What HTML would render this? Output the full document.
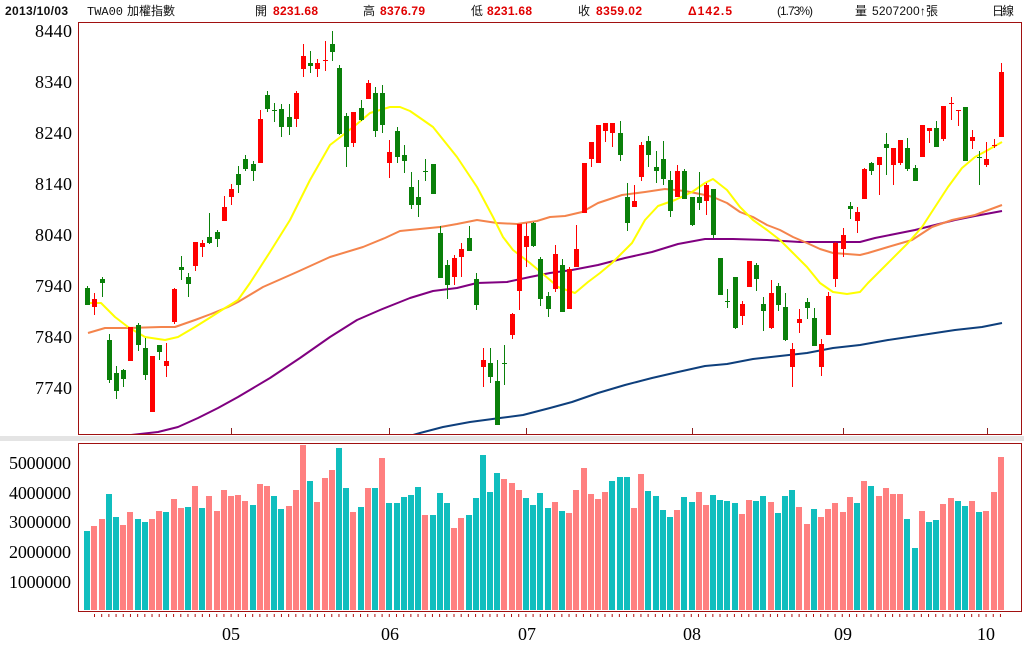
<!DOCTYPE html>
<html><head><meta charset="utf-8"><style>
html,body{margin:0;padding:0;background:#fff;}
svg{display:block;}
.hd{font-family:"Liberation Sans","Noto Sans CJK TC",sans-serif;font-size:12px;fill:#111;}
.hb{font-family:"Liberation Sans",sans-serif;font-size:12px;font-weight:bold;fill:#e00000;}
.dt{font-family:"Liberation Sans",sans-serif;font-size:12px;font-weight:bold;fill:#111;}
.mo{font-family:"Liberation Mono",monospace;font-size:12px;fill:#111;}
.ax{font-family:"Liberation Serif",serif;font-size:18px;fill:#000;}
</style></head><body>
<svg width="1024" height="662" viewBox="0 0 1024 662" xmlns="http://www.w3.org/2000/svg">
<rect width="1024" height="662" fill="#fff"/>
<text x="5" y="15" class="dt" textLength="63">2013/10/03</text>
<text x="87" y="15" class="mo">TWA00</text>
<text x="127" y="15" class="hd" textLength="48">加權指數</text>
<text x="255" y="15" class="hd">開</text><text x="273" y="15" class="hb" textLength="45">8231.68</text>
<text x="363" y="15" class="hd">高</text><text x="380" y="15" class="hb" textLength="45">8376.79</text>
<text x="471" y="15" class="hd">低</text><text x="487" y="15" class="hb" textLength="45">8231.68</text>
<text x="578" y="15" class="hd">收</text><text x="596" y="15" class="hb" textLength="46">8359.02</text>
<text x="688" y="15" class="hb" textLength="44">Δ142.5</text>
<text x="777" y="15" class="hd" textLength="36">(1.73%)</text>
<text x="855" y="15" class="hd">量</text><text x="872" y="15" class="hd" textLength="66">5207200↑張</text>
<text x="992" y="15" class="hd" textLength="22">日線</text>
<g class="ax" text-anchor="end">
<text x="72" y="37" textLength="37">8440</text>
<text x="72" y="88" textLength="37">8340</text>
<text x="72" y="139" textLength="37">8240</text>
<text x="72" y="190" textLength="37">8140</text>
<text x="72" y="241" textLength="37">8040</text>
<text x="72" y="292" textLength="37">7940</text>
<text x="72" y="343" textLength="37">7840</text>
<text x="72" y="394" textLength="37">7740</text>
<text x="71" y="469" textLength="62">5000000</text>
<text x="71" y="499" textLength="62">4000000</text>
<text x="71" y="528" textLength="62">3000000</text>
<text x="71" y="558" textLength="62">2000000</text>
<text x="71" y="588" textLength="62">1000000</text>
</g>
<g class="ax" text-anchor="middle">
<text x="231" y="640">05</text>
<text x="390" y="640">06</text>
<text x="527" y="640">07</text>
<text x="692" y="640">08</text>
<text x="843" y="640">09</text>
<text x="986" y="640">10</text>
</g>
<rect x="0" y="436" width="1024" height="5" fill="#e4e4e4"/>
<defs><clipPath id="cm"><rect x="79" y="23" width="942" height="411"/></clipPath></defs>
<g clip-path="url(#cm)" fill="none" stroke-width="2" stroke-linejoin="round">
<polyline stroke="#0e3f7c" points="413,435 420,433 443,427 470,422 500,418 523,415 550,408 572,402 598,393 625,385 652,378 678,372 705,366 727,364 753,359 780,356 807,353 833,348 860,345 888,340 922,335 955,330 982,327 1002,323"/>
<polyline stroke="#800080" points="131,435 158,432 178,427 198,418 218,408 238,397 270,378 300,358 330,337 357,320 380,310 400,302 410,298 433,291 457,288 477,283 507,282 530,277 550,273 572,270 598,265 625,258 652,252 678,244 705,239 733,239 767,240 800,242 833,242 860,242 875,238 895,234 915,230 935,225 955,220 975,216 1002,211"/>
<polyline stroke="#f4844c" points="88,333 105,328 128,328 161,327 175,327 195,320 211,314 228,307 238,302 263,287 297,272 330,257 363,247 385,238 400,231 410,230 440,227 457,224 477,220 497,223 517,224 537,221 550,217 565,216 582,212 598,203 622,195 645,192 665,189 685,191 705,195 713,197 727,203 740,212 753,217 767,225 780,230 793,237 807,243 820,249 833,253 847,254 860,255 868,253 888,247 912,240 932,227 952,220 975,215 1002,205"/>
<polyline stroke="#ffff00" points="88,303 101,303 115,317 128,327 145,337 165,340 178,337 195,327 211,317 225,308 230,305 238,300 250,283 270,252 290,220 310,180 330,145 343,135 357,124 370,113 390,107 400,107 410,111 423,120 433,127 445,142 457,157 477,187 493,217 503,237 513,250 530,263 550,280 558,287 575,293 588,282 600,273 612,263 632,243 645,220 658,206 675,200 692,192 705,183 713,179 727,190 740,207 753,220 767,230 780,240 793,253 807,267 820,283 833,292 847,294 860,292 868,283 888,263 908,243 922,227 935,207 948,187 962,168 975,157 988,150 1002,142"/>
</g>
<g fill="#ff0000">
<rect x="94" y="293" width="1" height="22"/><rect x="92" y="299" width="5" height="8"/>
<rect x="130" y="327" width="1" height="34"/><rect x="128" y="327" width="5" height="34"/>
<rect x="152" y="356" width="1" height="56"/><rect x="150" y="356" width="5" height="56"/>
<rect x="166" y="343" width="1" height="34"/><rect x="164" y="361" width="5" height="5"/>
<rect x="174" y="288" width="1" height="36"/><rect x="172" y="289" width="5" height="33"/>
<rect x="195" y="242" width="1" height="29"/><rect x="193" y="242" width="5" height="24"/>
<rect x="202" y="240" width="1" height="17"/><rect x="200" y="243" width="5" height="4"/>
<rect x="224" y="196" width="1" height="25"/><rect x="222" y="207" width="5" height="14"/>
<rect x="231" y="184" width="1" height="21"/><rect x="229" y="189" width="5" height="8"/>
<rect x="260" y="110" width="1" height="53"/><rect x="258" y="119" width="5" height="44"/>
<rect x="296" y="91" width="1" height="36"/><rect x="294" y="93" width="5" height="26"/>
<rect x="303" y="44" width="1" height="33"/><rect x="301" y="56" width="5" height="13"/>
<rect x="317" y="59" width="1" height="18"/><rect x="315" y="63" width="5" height="6"/>
<rect x="325" y="41" width="1" height="30"/><rect x="323" y="60" width="5" height="1"/>
<rect x="353" y="112" width="1" height="35"/><rect x="351" y="112" width="5" height="31"/>
<rect x="368" y="80" width="1" height="19"/><rect x="366" y="83" width="5" height="16"/>
<rect x="389" y="140" width="1" height="38"/><rect x="387" y="152" width="5" height="11"/>
<rect x="454" y="255" width="1" height="30"/><rect x="452" y="258" width="5" height="19"/>
<rect x="461" y="243" width="1" height="34"/><rect x="459" y="249" width="5" height="8"/>
<rect x="483" y="348" width="1" height="39"/><rect x="481" y="360" width="5" height="7"/>
<rect x="512" y="313" width="1" height="26"/><rect x="510" y="314" width="5" height="21"/>
<rect x="519" y="224" width="1" height="86"/><rect x="517" y="224" width="5" height="67"/>
<rect x="526" y="223" width="1" height="44"/><rect x="524" y="236" width="5" height="11"/>
<rect x="555" y="245" width="1" height="47"/><rect x="553" y="254" width="5" height="35"/>
<rect x="569" y="267" width="1" height="42"/><rect x="567" y="269" width="5" height="40"/>
<rect x="576" y="225" width="1" height="42"/><rect x="574" y="249" width="5" height="18"/>
<rect x="584" y="163" width="1" height="50"/><rect x="582" y="163" width="5" height="50"/>
<rect x="591" y="142" width="1" height="25"/><rect x="589" y="142" width="5" height="17"/>
<rect x="598" y="125" width="1" height="38"/><rect x="596" y="125" width="5" height="38"/>
<rect x="605" y="123" width="1" height="19"/><rect x="603" y="123" width="5" height="8"/>
<rect x="612" y="123" width="1" height="24"/><rect x="610" y="123" width="5" height="10"/>
<rect x="634" y="185" width="1" height="22"/><rect x="632" y="201" width="5" height="6"/>
<rect x="641" y="142" width="1" height="39"/><rect x="639" y="145" width="5" height="32"/>
<rect x="677" y="165" width="1" height="32"/><rect x="675" y="171" width="5" height="26"/>
<rect x="706" y="183" width="1" height="32"/><rect x="704" y="185" width="5" height="16"/>
<rect x="742" y="301" width="1" height="24"/><rect x="740" y="304" width="5" height="12"/>
<rect x="749" y="261" width="1" height="26"/><rect x="747" y="261" width="5" height="26"/>
<rect x="771" y="280" width="1" height="49"/><rect x="769" y="293" width="5" height="35"/>
<rect x="792" y="343" width="1" height="44"/><rect x="790" y="349" width="5" height="18"/>
<rect x="799" y="309" width="1" height="24"/><rect x="797" y="319" width="5" height="4"/>
<rect x="821" y="339" width="1" height="37"/><rect x="819" y="344" width="5" height="23"/>
<rect x="828" y="292" width="1" height="43"/><rect x="826" y="296" width="5" height="39"/>
<rect x="835" y="242" width="1" height="45"/><rect x="833" y="243" width="5" height="36"/>
<rect x="843" y="228" width="1" height="29"/><rect x="841" y="235" width="5" height="14"/>
<rect x="857" y="207" width="1" height="26"/><rect x="855" y="212" width="5" height="9"/>
<rect x="864" y="168" width="1" height="31"/><rect x="862" y="169" width="5" height="30"/>
<rect x="879" y="157" width="1" height="38"/><rect x="877" y="157" width="5" height="8"/>
<rect x="893" y="148" width="1" height="37"/><rect x="891" y="148" width="5" height="17"/>
<rect x="900" y="140" width="1" height="25"/><rect x="898" y="140" width="5" height="23"/>
<rect x="922" y="125" width="1" height="32"/><rect x="920" y="125" width="5" height="32"/>
<rect x="929" y="128" width="1" height="15"/><rect x="927" y="128" width="5" height="3"/>
<rect x="943" y="106" width="1" height="35"/><rect x="941" y="106" width="5" height="33"/>
<rect x="951" y="97" width="1" height="23"/><rect x="949" y="103" width="5" height="1"/>
<rect x="958" y="110" width="1" height="16"/><rect x="956" y="110" width="5" height="1"/>
<rect x="972" y="130" width="1" height="19"/><rect x="970" y="137" width="5" height="4"/>
<rect x="986" y="142" width="1" height="25"/><rect x="984" y="159" width="5" height="6"/>
<rect x="994" y="139" width="1" height="9"/><rect x="992" y="145" width="5" height="1"/>
<rect x="1001" y="63" width="1" height="74"/><rect x="999" y="72" width="5" height="65"/>
</g>
<g fill="#0a800a">
<rect x="87" y="286" width="1" height="19"/><rect x="85" y="288" width="5" height="17"/>
<rect x="102" y="277" width="1" height="20"/><rect x="100" y="279" width="5" height="4"/>
<rect x="109" y="334" width="1" height="49"/><rect x="107" y="340" width="5" height="40"/>
<rect x="116" y="366" width="1" height="33"/><rect x="114" y="373" width="5" height="18"/>
<rect x="123" y="369" width="1" height="18"/><rect x="121" y="370" width="5" height="9"/>
<rect x="138" y="323" width="1" height="28"/><rect x="136" y="325" width="5" height="20"/>
<rect x="145" y="338" width="1" height="42"/><rect x="143" y="348" width="5" height="27"/>
<rect x="159" y="345" width="1" height="15"/><rect x="157" y="345" width="5" height="7"/>
<rect x="181" y="256" width="1" height="24"/><rect x="179" y="267" width="5" height="3"/>
<rect x="188" y="273" width="1" height="24"/><rect x="186" y="277" width="5" height="7"/>
<rect x="209" y="213" width="1" height="31"/><rect x="207" y="237" width="5" height="6"/>
<rect x="217" y="230" width="1" height="17"/><rect x="215" y="232" width="5" height="7"/>
<rect x="238" y="166" width="1" height="27"/><rect x="236" y="174" width="5" height="11"/>
<rect x="245" y="155" width="1" height="16"/><rect x="243" y="159" width="5" height="10"/>
<rect x="253" y="161" width="1" height="20"/><rect x="251" y="164" width="5" height="7"/>
<rect x="267" y="91" width="1" height="21"/><rect x="265" y="95" width="5" height="14"/>
<rect x="274" y="103" width="1" height="19"/><rect x="272" y="110" width="5" height="1"/>
<rect x="281" y="104" width="1" height="33"/><rect x="279" y="109" width="5" height="18"/>
<rect x="289" y="104" width="1" height="31"/><rect x="287" y="117" width="5" height="10"/>
<rect x="310" y="51" width="1" height="22"/><rect x="308" y="63" width="5" height="3"/>
<rect x="332" y="31" width="1" height="30"/><rect x="330" y="44" width="5" height="8"/>
<rect x="339" y="65" width="1" height="70"/><rect x="337" y="68" width="5" height="66"/>
<rect x="346" y="113" width="1" height="54"/><rect x="344" y="116" width="5" height="31"/>
<rect x="361" y="100" width="1" height="21"/><rect x="359" y="108" width="5" height="12"/>
<rect x="375" y="87" width="1" height="50"/><rect x="373" y="93" width="5" height="38"/>
<rect x="382" y="85" width="1" height="48"/><rect x="380" y="93" width="5" height="32"/>
<rect x="397" y="127" width="1" height="36"/><rect x="395" y="131" width="5" height="26"/>
<rect x="404" y="145" width="1" height="28"/><rect x="402" y="155" width="5" height="6"/>
<rect x="411" y="172" width="1" height="37"/><rect x="409" y="187" width="5" height="18"/>
<rect x="418" y="180" width="1" height="37"/><rect x="416" y="197" width="5" height="8"/>
<rect x="425" y="159" width="1" height="22"/><rect x="423" y="171" width="5" height="1"/>
<rect x="433" y="164" width="1" height="30"/><rect x="431" y="164" width="5" height="30"/>
<rect x="440" y="226" width="1" height="52"/><rect x="438" y="233" width="5" height="45"/>
<rect x="447" y="260" width="1" height="39"/><rect x="445" y="265" width="5" height="20"/>
<rect x="469" y="226" width="1" height="25"/><rect x="467" y="238" width="5" height="13"/>
<rect x="476" y="273" width="1" height="37"/><rect x="474" y="279" width="5" height="26"/>
<rect x="490" y="348" width="1" height="35"/><rect x="488" y="363" width="5" height="14"/>
<rect x="497" y="360" width="1" height="65"/><rect x="495" y="381" width="5" height="44"/>
<rect x="504" y="345" width="1" height="40"/><rect x="502" y="363" width="5" height="1"/>
<rect x="533" y="222" width="1" height="25"/><rect x="531" y="223" width="5" height="23"/>
<rect x="540" y="257" width="1" height="49"/><rect x="538" y="259" width="5" height="40"/>
<rect x="548" y="292" width="1" height="25"/><rect x="546" y="296" width="5" height="13"/>
<rect x="562" y="259" width="1" height="53"/><rect x="560" y="265" width="5" height="47"/>
<rect x="620" y="121" width="1" height="40"/><rect x="618" y="133" width="5" height="22"/>
<rect x="627" y="183" width="1" height="48"/><rect x="625" y="197" width="5" height="26"/>
<rect x="648" y="136" width="1" height="31"/><rect x="646" y="141" width="5" height="14"/>
<rect x="656" y="151" width="1" height="32"/><rect x="654" y="167" width="5" height="4"/>
<rect x="663" y="141" width="1" height="44"/><rect x="661" y="159" width="5" height="20"/>
<rect x="670" y="171" width="1" height="46"/><rect x="668" y="180" width="5" height="31"/>
<rect x="684" y="169" width="1" height="30"/><rect x="682" y="171" width="5" height="28"/>
<rect x="692" y="197" width="1" height="29"/><rect x="690" y="197" width="5" height="28"/>
<rect x="699" y="172" width="1" height="38"/><rect x="697" y="197" width="5" height="6"/>
<rect x="713" y="189" width="1" height="49"/><rect x="711" y="189" width="5" height="46"/>
<rect x="720" y="258" width="1" height="37"/><rect x="718" y="258" width="5" height="37"/>
<rect x="727" y="289" width="1" height="19"/><rect x="725" y="301" width="5" height="1"/>
<rect x="735" y="277" width="1" height="52"/><rect x="733" y="277" width="5" height="51"/>
<rect x="756" y="263" width="1" height="28"/><rect x="754" y="265" width="5" height="14"/>
<rect x="763" y="297" width="1" height="34"/><rect x="761" y="304" width="5" height="7"/>
<rect x="778" y="283" width="1" height="28"/><rect x="776" y="286" width="5" height="19"/>
<rect x="785" y="293" width="1" height="48"/><rect x="783" y="307" width="5" height="33"/>
<rect x="807" y="298" width="1" height="21"/><rect x="805" y="302" width="5" height="6"/>
<rect x="814" y="308" width="1" height="38"/><rect x="812" y="318" width="5" height="28"/>
<rect x="850" y="202" width="1" height="17"/><rect x="848" y="206" width="5" height="3"/>
<rect x="871" y="162" width="1" height="13"/><rect x="869" y="163" width="5" height="8"/>
<rect x="886" y="133" width="1" height="42"/><rect x="884" y="144" width="5" height="4"/>
<rect x="907" y="138" width="1" height="33"/><rect x="905" y="148" width="5" height="21"/>
<rect x="915" y="165" width="1" height="16"/><rect x="913" y="168" width="5" height="13"/>
<rect x="936" y="121" width="1" height="26"/><rect x="934" y="128" width="5" height="19"/>
<rect x="965" y="107" width="1" height="54"/><rect x="963" y="107" width="5" height="54"/>
<rect x="979" y="151" width="1" height="34"/><rect x="977" y="157" width="5" height="1"/>
</g>
<g fill="#10bebe">
<rect x="84" y="531" width="6" height="79"/>
<rect x="106" y="494" width="6" height="116"/>
<rect x="113" y="517" width="6" height="93"/>
<rect x="135" y="519" width="6" height="91"/>
<rect x="142" y="522" width="6" height="88"/>
<rect x="163" y="512" width="6" height="98"/>
<rect x="185" y="507" width="6" height="103"/>
<rect x="199" y="508" width="6" height="102"/>
<rect x="250" y="505" width="6" height="105"/>
<rect x="271" y="496" width="6" height="114"/>
<rect x="278" y="509" width="6" height="101"/>
<rect x="307" y="481" width="6" height="129"/>
<rect x="336" y="448" width="6" height="162"/>
<rect x="343" y="488" width="6" height="122"/>
<rect x="358" y="507" width="6" height="103"/>
<rect x="372" y="488" width="6" height="122"/>
<rect x="386" y="503" width="6" height="107"/>
<rect x="394" y="503" width="6" height="107"/>
<rect x="401" y="497" width="6" height="113"/>
<rect x="408" y="495" width="6" height="115"/>
<rect x="415" y="487" width="6" height="123"/>
<rect x="430" y="515" width="6" height="95"/>
<rect x="437" y="493" width="6" height="117"/>
<rect x="444" y="503" width="6" height="107"/>
<rect x="466" y="515" width="6" height="95"/>
<rect x="473" y="498" width="6" height="112"/>
<rect x="480" y="455" width="6" height="155"/>
<rect x="487" y="492" width="6" height="118"/>
<rect x="494" y="473" width="6" height="137"/>
<rect x="523" y="498" width="6" height="112"/>
<rect x="530" y="505" width="6" height="105"/>
<rect x="537" y="493" width="6" height="117"/>
<rect x="545" y="508" width="6" height="102"/>
<rect x="559" y="511" width="6" height="99"/>
<rect x="609" y="481" width="6" height="129"/>
<rect x="617" y="477" width="6" height="133"/>
<rect x="624" y="477" width="6" height="133"/>
<rect x="645" y="491" width="6" height="119"/>
<rect x="653" y="496" width="6" height="114"/>
<rect x="660" y="510" width="6" height="100"/>
<rect x="667" y="517" width="6" height="93"/>
<rect x="681" y="497" width="6" height="113"/>
<rect x="689" y="502" width="6" height="108"/>
<rect x="710" y="495" width="6" height="115"/>
<rect x="717" y="500" width="6" height="110"/>
<rect x="724" y="501" width="6" height="109"/>
<rect x="732" y="503" width="6" height="107"/>
<rect x="753" y="501" width="6" height="109"/>
<rect x="760" y="496" width="6" height="114"/>
<rect x="775" y="513" width="6" height="97"/>
<rect x="782" y="496" width="6" height="114"/>
<rect x="789" y="490" width="6" height="120"/>
<rect x="811" y="509" width="6" height="101"/>
<rect x="854" y="503" width="6" height="107"/>
<rect x="868" y="486" width="6" height="124"/>
<rect x="904" y="519" width="6" height="91"/>
<rect x="912" y="548" width="6" height="62"/>
<rect x="926" y="522" width="6" height="88"/>
<rect x="933" y="520" width="6" height="90"/>
<rect x="955" y="501" width="6" height="109"/>
<rect x="962" y="506" width="6" height="104"/>
<rect x="976" y="512" width="6" height="98"/>
</g>
<g fill="#ff8080">
<rect x="91" y="526" width="6" height="84"/>
<rect x="99" y="519" width="6" height="91"/>
<rect x="120" y="525" width="6" height="85"/>
<rect x="127" y="512" width="6" height="98"/>
<rect x="149" y="519" width="6" height="91"/>
<rect x="156" y="511" width="6" height="99"/>
<rect x="171" y="499" width="6" height="111"/>
<rect x="178" y="508" width="6" height="102"/>
<rect x="192" y="486" width="6" height="124"/>
<rect x="206" y="496" width="6" height="114"/>
<rect x="214" y="511" width="6" height="99"/>
<rect x="221" y="490" width="6" height="120"/>
<rect x="228" y="496" width="6" height="114"/>
<rect x="235" y="495" width="6" height="115"/>
<rect x="242" y="501" width="6" height="109"/>
<rect x="257" y="484" width="6" height="126"/>
<rect x="264" y="486" width="6" height="124"/>
<rect x="286" y="506" width="6" height="104"/>
<rect x="293" y="490" width="6" height="120"/>
<rect x="300" y="445" width="6" height="165"/>
<rect x="314" y="502" width="6" height="108"/>
<rect x="322" y="478" width="6" height="132"/>
<rect x="329" y="470" width="6" height="140"/>
<rect x="350" y="512" width="6" height="98"/>
<rect x="365" y="488" width="6" height="122"/>
<rect x="379" y="458" width="6" height="152"/>
<rect x="422" y="515" width="6" height="95"/>
<rect x="451" y="528" width="6" height="82"/>
<rect x="458" y="518" width="6" height="92"/>
<rect x="501" y="479" width="6" height="131"/>
<rect x="509" y="483" width="6" height="127"/>
<rect x="516" y="490" width="6" height="120"/>
<rect x="552" y="502" width="6" height="108"/>
<rect x="566" y="513" width="6" height="97"/>
<rect x="573" y="490" width="6" height="120"/>
<rect x="581" y="468" width="6" height="142"/>
<rect x="588" y="494" width="6" height="116"/>
<rect x="595" y="499" width="6" height="111"/>
<rect x="602" y="492" width="6" height="118"/>
<rect x="631" y="508" width="6" height="102"/>
<rect x="638" y="474" width="6" height="136"/>
<rect x="674" y="510" width="6" height="100"/>
<rect x="696" y="492" width="6" height="118"/>
<rect x="703" y="505" width="6" height="105"/>
<rect x="739" y="514" width="6" height="96"/>
<rect x="746" y="500" width="6" height="110"/>
<rect x="768" y="502" width="6" height="108"/>
<rect x="796" y="507" width="6" height="103"/>
<rect x="804" y="524" width="6" height="86"/>
<rect x="818" y="517" width="6" height="93"/>
<rect x="825" y="509" width="6" height="101"/>
<rect x="832" y="503" width="6" height="107"/>
<rect x="840" y="512" width="6" height="98"/>
<rect x="847" y="497" width="6" height="113"/>
<rect x="861" y="481" width="6" height="129"/>
<rect x="876" y="496" width="6" height="114"/>
<rect x="883" y="488" width="6" height="122"/>
<rect x="890" y="494" width="6" height="116"/>
<rect x="897" y="494" width="6" height="116"/>
<rect x="919" y="511" width="6" height="99"/>
<rect x="940" y="504" width="6" height="106"/>
<rect x="948" y="498" width="6" height="112"/>
<rect x="969" y="501" width="6" height="109"/>
<rect x="983" y="511" width="6" height="99"/>
<rect x="991" y="492" width="6" height="118"/>
<rect x="998" y="457" width="6" height="153"/>
</g>
<rect x="78.5" y="22.5" width="943" height="412" fill="none" stroke="#a01010" stroke-width="1"/>
<rect x="78.5" y="443.5" width="943" height="168" fill="none" stroke="#a01010" stroke-width="1"/>
<g stroke="#8a2020" stroke-width="1">
<line x1="231.5" y1="428" x2="231.5" y2="434"/>
<line x1="389.5" y1="428" x2="389.5" y2="434"/>
<line x1="526.5" y1="428" x2="526.5" y2="434"/>
<line x1="692.5" y1="428" x2="692.5" y2="434"/>
<line x1="843.5" y1="428" x2="843.5" y2="434"/>
<line x1="987.5" y1="428" x2="987.5" y2="434"/>
</g>
<line x1="94" y1="615.5" x2="1002" y2="615.5" stroke="#b01010" stroke-width="3" stroke-dasharray="1 6.19"/>
</svg>
</body></html>
